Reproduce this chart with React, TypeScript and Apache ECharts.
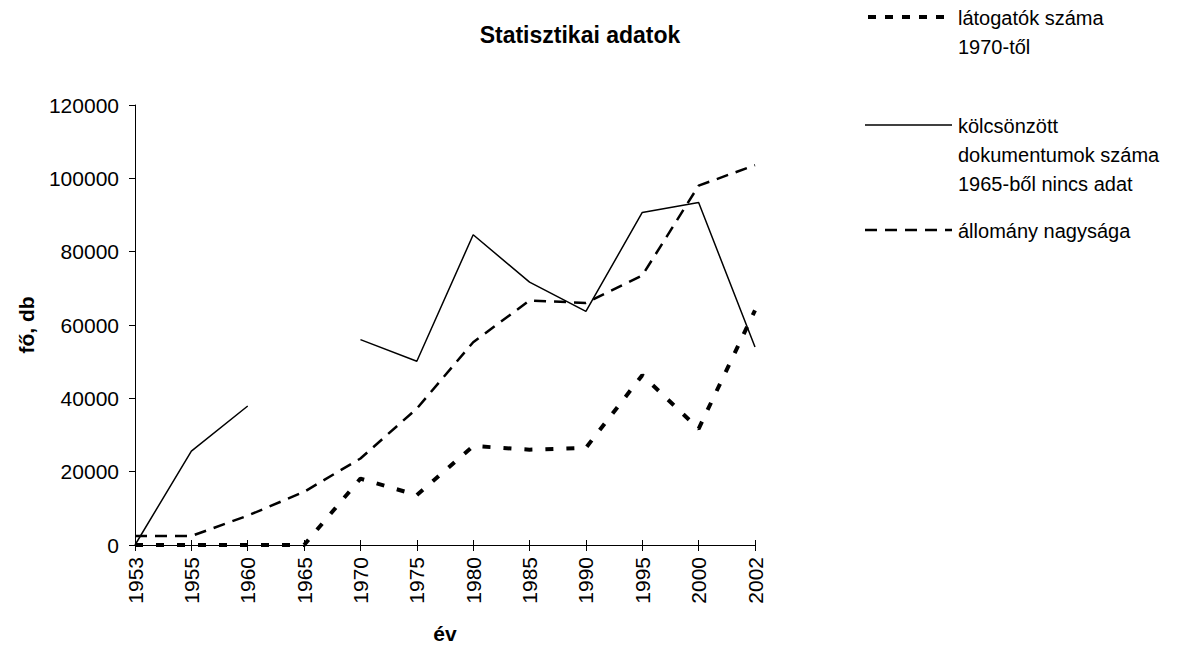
import React, { useEffect, useRef } from "react";
import * as echarts from "echarts";

const years = ["1953", "1955", "1960", "1965", "1970", "1975", "1980", "1985", "1990", "1995", "2000", "2002"];
const visitors = [0, 0, 0, 0, 18100, 13600, 27000, 26000, 26500, 46300, 31700, 64000];
const loans = [0, 25600, 37900, null, 56000, 50100, 84600, 71700, 63700, 90700, 93400, 54000];
const stock = [2450, 2450, 8000, 14500, 23600, 37200, 55300, 66700, 66000, 73500, 98000, 103600];

const FONT = "'Liberation Sans', Arial, sans-serif";

export default function App() {
  const ref = useRef<HTMLDivElement>(null);
  useEffect(() => {
    const chart = echarts.init(ref.current!, null, { renderer: "svg" });
    const legendX1 = 868;
    const legendX2 = 952;
    const textX = 958;
    chart.setOption({
      animation: false,
      backgroundColor: "#ffffff",
      title: {
        text: "Statisztikai adatok",
        left: 575,
        top: 18,
        textAlign: "center",
        textStyle: { fontFamily: FONT, fontSize: 23, fontWeight: "bold", color: "#000" },
      },
      grid: { left: 135, right: 436, top: 105, bottom: 103, containLabel: false },
      xAxis: [
        {
          type: "category",
          data: years,
          boundaryGap: false,
          name: "év",
          nameLocation: "middle",
          nameGap: 78,
          nameTextStyle: { fontFamily: FONT, fontSize: 21, fontWeight: "bold", color: "#000" },
          axisLine: { lineStyle: { color: "#000", width: 1 } },
          axisTick: { alignWithLabel: true, length: 6, lineStyle: { color: "#000" } },
          axisLabel: { rotate: 90, margin: 12, fontFamily: FONT, fontSize: 21, color: "#000", interval: 0 },
          splitLine: { show: false },
        },
        {
          type: "category",
          data: years,
          boundaryGap: false,
          position: "bottom",
          axisLine: { show: false },
          axisTick: { inside: true, length: 5, lineStyle: { color: "#000" } },
          axisLabel: { show: false },
          splitLine: { show: false },
        },
      ],
      yAxis: {
        type: "value",
        min: 0,
        max: 120000,
        interval: 20000,
        name: "fő, db",
        nameLocation: "middle",
        nameGap: 98,
        nameRotate: 90,
        nameTextStyle: { fontFamily: FONT, fontSize: 21, fontWeight: "bold", color: "#000" },
        axisLine: { show: true, lineStyle: { color: "#000", width: 1 } },
        axisTick: { show: true, length: 6, lineStyle: { color: "#000" } },
        axisLabel: {
          margin: 16,
          fontFamily: FONT,
          fontSize: 21,
          color: "#000",
          formatter: (v: number) => String(v),
        },
        splitLine: { show: false },
      },
      series: [
        {
          name: "állomány nagysága",
          type: "line",
          data: stock,
          symbol: "none",
          lineStyle: { color: "#000", width: 2.5, type: [12, 8] },
        },
        {
          name: "kölcsönzött dokumentumok száma 1965-ből nincs adat",
          type: "line",
          data: loans,
          symbol: "none",
          connectNulls: false,
          lineStyle: { color: "#000", width: 1.5, type: "solid" },
        },
        {
          name: "látogatók száma 1970-től",
          type: "line",
          data: visitors,
          symbol: "none",
          lineStyle: { color: "#000", width: 4, type: [8, 13], cap: "butt" },
        },
      ],
      graphic: [
        {
          type: "line",
          shape: { x1: legendX1, y1: 17, x2: legendX2, y2: 17 },
          style: { stroke: "#000", lineWidth: 4, lineDash: [8, 9] },
        },
        {
          type: "text",
          x: textX,
          y: 3,
          style: { text: "látogatók száma\n1970-től", fontFamily: FONT, fontSize: 20, lineHeight: 29, fill: "#000" },
        },
        {
          type: "line",
          shape: { x1: legendX1 - 3, y1: 125, x2: legendX2, y2: 125 },
          style: { stroke: "#000", lineWidth: 1.5 },
        },
        {
          type: "text",
          x: textX,
          y: 111,
          style: {
            text: "kölcsönzött\ndokumentumok száma\n1965-ből nincs adat",
            fontFamily: FONT,
            fontSize: 20,
            lineHeight: 29,
            fill: "#000",
          },
        },
        {
          type: "line",
          shape: { x1: legendX1 - 3, y1: 230, x2: legendX2, y2: 230 },
          style: { stroke: "#000", lineWidth: 2.5, lineDash: [12, 8] },
        },
        {
          type: "text",
          x: textX,
          y: 216,
          style: { text: "állomány nagysága", fontFamily: FONT, fontSize: 20, lineHeight: 29, fill: "#000" },
        },
      ],
    });
    return () => chart.dispose();
  }, []);
  return <div ref={ref} style={{ width: 1191, height: 649, position: "absolute", left: 0, top: 0 }} />;
}
